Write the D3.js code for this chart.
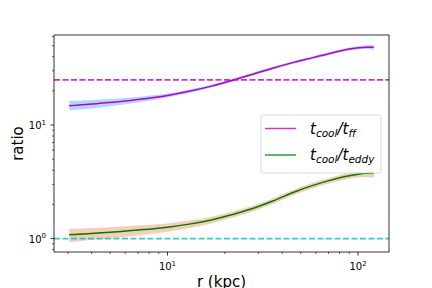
<!DOCTYPE html>
<html>
<head>
<meta charset="utf-8">
<script src="https://cdn.jsdelivr.net/npm/d3@7"></script>
<style>
  body { margin: 0; background: #fff; }
  text { font-family: "DejaVu Sans", sans-serif; fill: #000; }
</style>
</head>
<body>
<div id="chart"></div>
<script>
const width = 432;
const height = 288;
const margin = { top: 35, right: 43, bottom: 36, left: 54 };

// radius (kpc)
const rKpc = [3.05, 4, 5.5, 7.5, 10, 13, 17, 22, 28, 36, 46, 58, 72, 90, 110, 121];
// t_cool / t_ff
const tff = [14.8, 15.3, 16.0, 17.0, 18.2, 19.8, 22.0, 24.8, 28.0, 31.8, 35.6, 39.2, 42.9, 46.7, 48.5, 48.3];
const tffLow = [13.4, 14.0, 14.9, 16.1, 17.5, 19.1, 21.3, 24.1, 27.2, 30.9, 34.6, 38.1, 41.6, 45.2, 46.6, 45.5];
const tffHigh = [16.3, 16.6, 17.1, 17.9, 18.9, 20.5, 22.7, 25.5, 28.8, 32.7, 36.6, 40.3, 44.2, 48.2, 50.3, 50.8];
// t_cool / t_eddy
const teddy = [1.08, 1.11, 1.15, 1.20, 1.26, 1.34, 1.46, 1.63, 1.84, 2.15, 2.56, 2.94, 3.27, 3.57, 3.76, 3.78];
const teddyLow = [0.93, 0.97, 1.02, 1.08, 1.15, 1.24, 1.36, 1.53, 1.73, 2.03, 2.42, 2.78, 3.08, 3.36, 3.48, 3.44];
const teddyHigh = [1.22, 1.24, 1.27, 1.31, 1.36, 1.44, 1.56, 1.73, 1.95, 2.27, 2.70, 3.10, 3.45, 3.80, 4.02, 4.06];
// horizontal reference levels
const refLines = [
  { value: 25, color: "#bf00bf" },
  { value: 1, color: "#00bfbf" },
];
const xMajor = [10, 100];
const yMajor = [1, 10];

const svg = d3.select("#chart").append("svg")
  .attr("width", width)
  .attr("height", height);

// log-space extent with 5% padding, like matplotlib
function logExtent(vals) {
  const lo = Math.log10(d3.min(vals));
  const hi = Math.log10(d3.max(vals));
  const pad = (hi - lo) * 0.05;
  return [Math.pow(10, lo - pad), Math.pow(10, hi + pad)];
}

const x = d3.scaleLog()
  .domain(logExtent(rKpc))
  .range([margin.left, width - margin.right]);
const y = d3.scaleLog()
  .domain(logExtent(tffLow.concat(tffHigh, teddyLow, teddyHigh)))
  .range([height - margin.bottom, margin.top]);

const plot = svg.append("g");

function band(lo, hi, fill, op) {
  const area = d3.area()
    .x((d, i) => x(rKpc[i]))
    .y0((d, i) => y(lo[i]))
    .y1((d, i) => y(hi[i]))
    .curve(d3.curveMonotoneX);
  plot.append("path")
    .attr("d", area(rKpc))
    .attr("fill", fill)
    .attr("fill-opacity", op);
}

function curve(vals, color) {
  const line = d3.line()
    .x((d, i) => x(rKpc[i]))
    .y((d, i) => y(vals[i]))
    .curve(d3.curveMonotoneX);
  plot.append("path")
    .attr("d", line(rKpc))
    .attr("fill", "none")
    .attr("stroke", color)
    .attr("stroke-width", 1.5);
}

band(tffLow, tffHigh, "#1e90ff", 0.35);
band(teddyLow, teddyHigh, "#e8a070", 0.5);
curve(tff, "#b800c0");
curve(teddy, "#007a00");

refLines.forEach((l) => {
  plot.append("line")
    .attr("x1", margin.left)
    .attr("x2", width - margin.right)
    .attr("y1", y(l.value))
    .attr("y2", y(l.value))
    .attr("stroke", l.color)
    .attr("stroke-opacity", 0.8)
    .attr("stroke-width", 1.8)
    .attr("stroke-dasharray", "6,2.5");
});

// frame
svg.append("rect")
  .attr("x", margin.left)
  .attr("y", margin.top)
  .attr("width", width - margin.left - margin.right)
  .attr("height", height - margin.top - margin.bottom)
  .attr("fill", "none")
  .attr("stroke", "#000")
  .attr("stroke-width", 0.8);

// minor ticks
function minorTicks(scale) {
  const [a, b] = scale.domain();
  const out = [];
  for (let e = Math.floor(Math.log10(a)); e <= Math.ceil(Math.log10(b)); e++) {
    for (let k = 2; k <= 9; k++) {
      const v = k * Math.pow(10, e);
      if (v >= a && v <= b) out.push(v);
    }
  }
  return out;
}

const y0 = height - margin.bottom;
const axes = svg.append("g").attr("stroke", "#000");

minorTicks(x).forEach((v) => {
  axes.append("line").attr("x1", x(v)).attr("x2", x(v))
    .attr("y1", y0).attr("y2", y0 + 2).attr("stroke-width", 0.6);
});
xMajor.forEach((v) => {
  axes.append("line").attr("x1", x(v)).attr("x2", x(v))
    .attr("y1", y0).attr("y2", y0 + 3.5).attr("stroke-width", 0.8);
});
minorTicks(y).forEach((v) => {
  axes.append("line").attr("x1", margin.left - 2).attr("x2", margin.left)
    .attr("y1", y(v)).attr("y2", y(v)).attr("stroke-width", 0.6);
});
yMajor.forEach((v) => {
  axes.append("line").attr("x1", margin.left - 3.5).attr("x2", margin.left)
    .attr("y1", y(v)).attr("y2", y(v)).attr("stroke-width", 0.8);
});

function powLabel(g, v) {
  const e = Math.round(Math.log10(v));
  g.append("tspan").attr("font-size", 10).text("10");
  g.append("tspan").attr("font-size", 7).attr("dy", -4.5).text(e);
}

xMajor.forEach((v) => {
  const t = svg.append("text")
    .attr("x", x(v))
    .attr("y", y0 + 18)
    .attr("text-anchor", "middle");
  powLabel(t, v);
});
yMajor.forEach((v) => {
  const t = svg.append("text")
    .attr("x", margin.left - 8)
    .attr("y", y(v) + 4)
    .attr("text-anchor", "end");
  powLabel(t, v);
});

svg.append("text")
  .attr("x", (margin.left + width - margin.right) / 2)
  .attr("y", 287)
  .attr("text-anchor", "middle")
  .attr("font-size", 15)
  .text("r (kpc)");

svg.append("text")
  .attr("transform", `translate(22.5,${(margin.top + height - margin.bottom) / 2}) rotate(-90)`)
  .attr("text-anchor", "middle")
  .attr("font-size", 15)
  .text("ratio");

// legend
const legend = svg.append("g").attr("transform", "translate(261,115)");
legend.append("rect")
  .attr("width", 120)
  .attr("height", 58)
  .attr("rx", 3)
  .attr("fill", "#fff")
  .attr("fill-opacity", 0.8)
  .attr("stroke", "#d0d0d0")
  .attr("stroke-width", 0.8);

const entries = [
  { sub2: "ff", color: "#bf00bf", y: 13.5 },
  { sub2: "eddy", color: "#008000", y: 40 },
];
entries.forEach((d) => {
  legend.append("line")
    .attr("x1", 4).attr("x2", 35)
    .attr("y1", d.y).attr("y2", d.y)
    .attr("stroke", d.color)
    .attr("stroke-opacity", 0.8)
    .attr("stroke-width", 1.5);
  const t = legend.append("text")
    .attr("x", 49)
    .attr("y", d.y + 5)
    .attr("font-style", "italic")
    .attr("font-size", 15);
  t.append("tspan").text("t");
  t.append("tspan").attr("font-size", 10.5).attr("dy", 3).text("cool");
  t.append("tspan").attr("dy", -3).text("/t");
  t.append("tspan").attr("font-size", 10.5).attr("dy", 3).text(d.sub2);
});
</script>
</body>
</html>
